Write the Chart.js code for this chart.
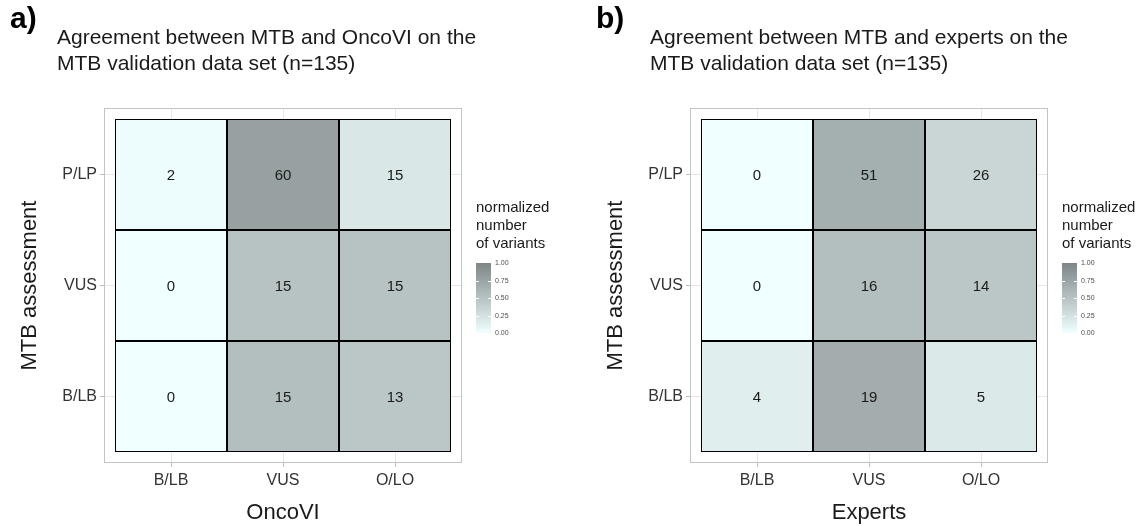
<!DOCTYPE html>
<html>
<head>
<meta charset="utf-8">
<script src="https://cdn.jsdelivr.net/npm/chart.js@4.4.1/dist/chart.umd.min.js"></script>
<style>
    body { margin: 0; background: #fff; font-family: "Liberation Sans", Arial, sans-serif; }
    #wrap { position: relative; width: 1143px; height: 526px; overflow: hidden; }
    .panel { position: absolute; top: 0; width: 557px; height: 526px; }
    .panel canvas { position: absolute; left: 0; top: 0; }
    .tag { position: absolute; left: 10px; top: 3px; font-size: 30px; line-height: 30px; font-weight: bold; color: #000; }
    .title { position: absolute; left: 57px; top: 24px; font-size: 21px; line-height: 26px; color: #1a1a1a; white-space: nowrap; }
    #panelB .title { left: 64px; }
    .leg-title { position: absolute; left: 476px; top: 198px; font-size: 15px; line-height: 18px; color: #1a1a1a; }
    .leg-bar { position: absolute; left: 476px; top: 263px; width: 15px; height: 70px; }
    .leg-tick { position: absolute; height: 1px; width: 3px; background: #fff; }
    .leg-lab { position: absolute; left: 495px; font-size: 7px; line-height: 8px; color: #4d4d4d; }
</style>
</head>
<body>
<div id="wrap">
    <div class="panel" id="panelA" style="left:0">
        <canvas id="chartA" width="557" height="526"></canvas>
        <div class="tag">a)</div>
        <div class="title">Agreement between MTB and OncoVI on the<br>MTB validation data set (n=135)</div>
    </div>
    <div class="panel" id="panelB" style="left:586px">
        <canvas id="chartB" width="557" height="526"></canvas>
        <div class="tag">b)</div>
        <div class="title">Agreement between MTB and experts on the<br>MTB validation data set (n=135)</div>
    </div>
</div>
<script>
// categories (x = second classifier, y = MTB assessment, bottom to top)
var colLabels = ["B/LB", "VUS", "O/LO"];
var rowLabels = ["B/LB", "VUS", "P/LP"];

// panel a: MTB vs OncoVI, one array per MTB row
var oncoviBLB = [0, 15, 13];
var oncoviVUS = [0, 15, 15];
var oncoviPLP = [2, 60, 15];

// panel b: MTB vs experts
var expertsBLB = [4, 19, 5];
var expertsVUS = [0, 16, 14];
var expertsPLP = [0, 51, 26];

var legendTicks = [0, 0.25, 0.5, 0.75, 1];

var LOW = [240, 255, 255];
var HIGH = [126, 134, 134];

// tile size in px and the gap between tiles and panel edge, so edges land on whole pixels
var CELL_W = 112, CELL_H = 111, GAP = 11;

function fillFor(t) {
    var c = [0, 1, 2].map(function(k) {
        return Math.round(LOW[k] + (HIGH[k] - LOW[k]) * t);
    });
    return "rgb(" + c.join(",") + ")";
}

function buildDatasets(rows) {
    return rows.map(function(counts, r) {
        var total = counts.reduce(function(a, b) { return a + b; }, 0);
        return {
            data: counts.map(function(c, i) { return { x: i, y: [r - 0.5, r + 0.5] }; }),
            counts: counts,
            backgroundColor: counts.map(function(c) { return fillFor(total ? c / total : 0); }),
            borderColor: "#000",
            borderWidth: 1,
            borderSkipped: false,
            grouped: false,
            inflateAmount: 0,
            barPercentage: 1,
            categoryPercentage: 1
        };
    });
}

var cellText = {
    id: "cellText",
    afterDatasetsDraw: function(chart) {
        var ctx = chart.ctx;
        ctx.save();
        ctx.font = "15px 'Liberation Sans', Arial, sans-serif";
        ctx.fillStyle = "#1a1a1a";
        ctx.textAlign = "center";
        ctx.textBaseline = "middle";
        chart.data.datasets.forEach(function(ds, di) {
            chart.getDatasetMeta(di).data.forEach(function(bar, i) {
                ctx.fillText(String(ds.counts[i]), bar.x, (bar.y + bar.base) / 2 + 1);
            });
        });
        ctx.restore();
    }
};

var panelBorder = {
    id: "panelBorder",
    afterDraw: function(chart) {
        var a = chart.chartArea;
        var ctx = chart.ctx;
        ctx.save();
        ctx.strokeStyle = "#c4c4c4";
        ctx.lineWidth = 1;
        ctx.strokeRect(a.left + 0.5, a.top + 0.5, a.right - a.left - 1, a.bottom - a.top - 1);
        ctx.restore();
    }
};

function fixedTicks(scale) {
    scale.ticks = [0, 1, 2].map(function(v) { return { value: v }; });
}

function makeHeatmap(canvasId, rows, xTitle) {
    var font = "'Liberation Sans', Arial, sans-serif";
    var padX = GAP / CELL_W, padY = GAP / CELL_H;
    var areaW = 3 * CELL_W + 2 * GAP, areaH = 3 * CELL_H + 2 * GAP;
    var yAxisW = 104, top = 108;
    return new Chart(document.getElementById(canvasId), {
        type: "bar",
        data: { datasets: buildDatasets(rows) },
        options: {
            responsive: false,
            animation: false,
            layout: { padding: { left: 0, top: top, right: 557 - yAxisW - areaW, bottom: 0 } },
            plugins: { legend: { display: false }, tooltip: { enabled: false } },
            scales: {
                x: {
                    type: "linear",
                    min: -0.5 - padX,
                    max: 2.5 + padX,
                    offset: false,
                    afterBuildTicks: fixedTicks,
                    afterFit: function(s) { s.height = 526 - top - areaH; },
                    grid: { color: "#e6e6e6", tickColor: "#bdbdbd", tickLength: 4, offset: false },
                    border: { display: false },
                    ticks: {
                        padding: 4,
                        color: "#333",
                        font: { family: font, size: 16 },
                        callback: function(v) { return colLabels[v]; }
                    },
                    title: { display: true, text: xTitle, color: "#1a1a1a", font: { family: font, size: 22 }, padding: 0 }
                },
                y: {
                    type: "linear",
                    min: -0.5 - padY,
                    max: 2.5 + padY,
                    afterBuildTicks: fixedTicks,
                    afterFit: function(s) { s.width = yAxisW; },
                    grid: { color: "#e6e6e6", tickColor: "#bdbdbd", tickLength: 4 },
                    border: { display: false },
                    ticks: {
                        padding: 3,
                        color: "#333",
                        font: { family: font, size: 16 },
                        callback: function(v) { return rowLabels[v]; }
                    },
                    title: { display: true, text: "MTB assessment", color: "#1a1a1a", font: { family: font, size: 22 }, padding: { top: 17, bottom: 0 } }
                }
            }
        },
        plugins: [cellText, panelBorder]
    });
}

function buildLegend(panelId) {
    var panel = document.getElementById(panelId);
    var title = document.createElement("div");
    title.className = "leg-title";
    title.innerHTML = "normalized<br>number<br>of variants";
    panel.appendChild(title);

    var bar = document.createElement("div");
    bar.className = "leg-bar";
    bar.style.background = "linear-gradient(to top, " + fillFor(0) + ", " + fillFor(1) + ")";
    panel.appendChild(bar);

    legendTicks.forEach(function(t) {
        var y = 263 + (1 - t) * 70;
        if (t > 0 && t < 1) {
            [476, 488].forEach(function(x) {
                var tk = document.createElement("div");
                tk.className = "leg-tick";
                tk.style.left = x + "px";
                tk.style.top = Math.round(y) + "px";
                panel.appendChild(tk);
            });
        }
        var lab = document.createElement("div");
        lab.className = "leg-lab";
        lab.style.top = (y - 4) + "px";
        lab.textContent = t.toFixed(2);
        panel.appendChild(lab);
    });
}

makeHeatmap("chartA", [oncoviBLB, oncoviVUS, oncoviPLP], "OncoVI");
makeHeatmap("chartB", [expertsBLB, expertsVUS, expertsPLP], "Experts");
buildLegend("panelA");
buildLegend("panelB");
</script>
</body>
</html>
